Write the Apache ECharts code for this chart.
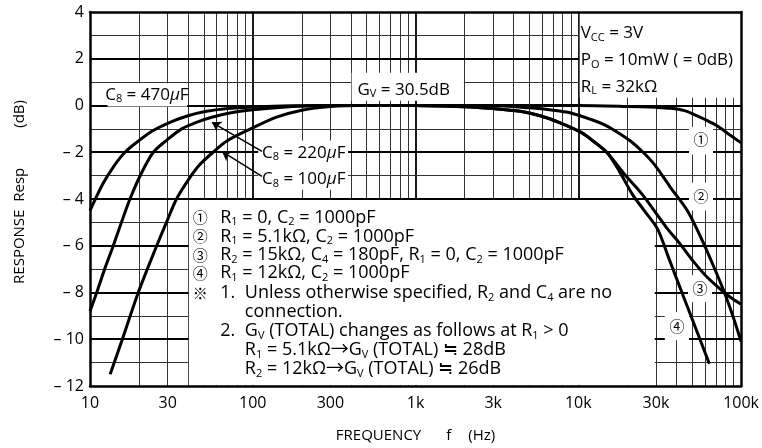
<!DOCTYPE html>
<html><head><meta charset="utf-8">
<script src="https://cdn.jsdelivr.net/npm/echarts@6/dist/echarts.min.js"></script>
<style>html,body{margin:0;padding:0;background:#fff}#c{width:762px;height:448px}</style>
</head><body><div id="c"></div>
<script>
// ---------- axis ticks ----------
const FREQ_TICKS = [10, 30, 100, 300, 1000, 3000, 10000, 30000, 100000];
const FREQ_LABELS = ['10', '30', '100', '300', '1k', '3k', '10k', '30k', '100k'];
const FREQ_MIN = 10, FREQ_MAX = 100000;
const RESP_MIN = -12, RESP_MAX = 4, RESP_STEP = 2;
const DECADES = [10, 100, 1000, 10000];
const MINOR_MULT = [2, 3, 4, 5, 6, 7, 8, 9];

// ---------- low-frequency curves (C8) ----------
const C8_470_F  = [10, 12, 14, 16.4, 20, 24, 30, 40, 51, 70, 100, 150, 250, 1000];
const C8_470_DB = [-4.5, -3.35, -2.6, -2.0, -1.5, -1.1, -0.76, -0.44, -0.26, -0.13, -0.06, -0.02, 0, 0];
const C8_220_F  = [10, 11, 12.3, 13.9, 15.6, 17.6, 20.5, 24.5, 30, 36.6, 45, 56, 75, 100, 160, 250, 400, 1000];
const C8_220_DB = [-8.8, -8.0, -7.0, -6.0, -5.0, -4.0, -2.95, -2.0, -1.45, -1.0, -0.72, -0.5, -0.3, -0.18, -0.06, -0.01, 0, 0];
const C8_100_F  = [13.3, 15.8, 19.8, 25.7, 29.5, 34, 40, 47, 57, 70, 97, 140, 200, 300, 450, 1000];
const C8_100_DB = [-11.5, -10, -8, -6, -5, -4, -3.2, -2.55, -2.0, -1.5, -1.0, -0.5, -0.2, -0.04, 0, 0];

// ---------- high-frequency curves (1)-(4) ----------
const HF1_F  = [1000, 10000, 20000, 30000, 37000, 45000, 51600, 60000, 72000, 85000, 100000];
const HF1_DB = [0, 0, -0.04, -0.08, -0.12, -0.22, -0.39, -0.6, -0.89, -1.25, -1.6];
const HF2_F  = [1000, 3000, 5000, 7000, 9000, 12000, 14400, 17000, 21000, 25000, 29300, 37000, 47000, 58000, 68000, 79000, 90000, 100000];
const HF2_DB = [0, 0, -0.1, -0.2, -0.32, -0.6, -0.82, -1.1, -1.53, -2.0, -2.52, -3.52, -4.52, -5.8, -6.9, -8.0, -9.1, -10.1];
const HF3_F  = [1000, 2000, 3000, 4400, 5900, 7800, 10400, 12500, 15100, 19000, 24700, 30000, 35400, 40900, 51500, 62000, 78700, 89000, 100000];
const HF3_DB = [0, -0.05, -0.13, -0.25, -0.45, -0.75, -1.15, -1.55, -2.03, -2.9, -3.8, -4.6, -5.29, -5.8, -6.71, -7.35, -8.0, -8.28, -8.5];
const HF4_F  = [1000, 2000, 3000, 4400, 5900, 7800, 10400, 12500, 15100, 18000, 21500, 25500, 30700, 36000, 42000, 47000, 54000, 63800];
const HF4_DB = [0, -0.05, -0.13, -0.25, -0.45, -0.75, -1.15, -1.55, -2.03, -2.85, -3.8, -4.51, -5.29, -6.54, -7.76, -8.64, -9.73, -11.05];

// ---------- annotation layout (data coordinates) ----------
// white boxes: [f1, f2, dB1, dB2]
const NOTE_BOXES = [
  [40.5, 29500, -4.04, -11.96],
  [10200, 100000, 0.33, 4],
  [405, 1980, 0.2, 1.4],
  [12.8, 39.5, -0.04, 0.95],
  [108, 385, -1.5, -3.6],
  [47900, 67300, -0.91, -2.1],
  [47900, 67300, -3.3, -4.5],
  [47200, 66300, -7.26, -8.41],
  [34000, 47900, -8.84, -10.04]
];
// arrows: [fromF, fromDB, toF, toDB]
const ARROWS = [
  [113.9, -1.96, 56.1, -0.72],
  [113.9, -3.03, 64.6, -1.96]
];
// texts: [f, dB, text, position]
const NOTE_TEXTS = [
  [12.4, 0.46, 'C{sub|8} = 470{it|µ}F', 'right'],
  [440, 0.67, 'G{sub|V} = 30.5dB', 'right'],
  [114, -2.02, 'C{sub|8} = 220{it|µ}F', 'right'],
  [114, -3.17, 'C{sub|8} = 100{it|µ}F', 'right'],
  [10350, 3.1, 'V{sub|CC} = 3V', 'right'],
  [10350, 1.95, 'P{sub|O} = 10mW ( = 0dB)', 'right'],
  [10350, 0.8, 'R{sub|L} = 32kΩ', 'right'],
  [56800, -1.46, '{cir|①}', 'inside'],
  [56800, -3.88, '{cir|②}', 'inside'],
  [56000, -7.83, '{cir|③}', 'inside'],
  [40400, -9.45, '{cir|④}', 'inside']
];
const LEGEND_ROWS_DB = [-4.79, -5.6, -6.41, -7.18, -8.03, -8.84, -9.65, -10.46, -11.27];
const LEGEND_COL_F = [47.5, 63.1, 89.4];
// [row, col, text]
const LEGEND_TEXTS = [
  [0, 0, '{cir|①}'], [0, 1, 'R{sub|1} = 0, C{sub|2} = 1000pF'],
  [1, 0, '{cir|②}'], [1, 1, 'R{sub|1} = 5.1kΩ, C{sub|2} = 1000pF'],
  [2, 0, '{cir|③}'], [2, 1, 'R{sub|2} = 15kΩ, C{sub|4} = 180pF, R{sub|1} = 0, C{sub|2} = 1000pF'],
  [3, 0, '{cir|④}'], [3, 1, 'R{sub|1} = 12kΩ, C{sub|2} = 1000pF'],
  [4, 0, '{cir|※}'], [4, 1, '1.'], [4, 2, 'Unless otherwise specified, R{sub|2} and C{sub|4} are no'],
  [5, 2, 'connection.'],
  [6, 1, '2.'], [6, 2, 'G{sub|V} (TOTAL) changes as follows at R{sub|1} > 0'],
  [7, 2, 'R{sub|1} = 5.1kΩ→G{sub|V} (TOTAL) ≒ 28dB'],
  [8, 2, 'R{sub|2} = 12kΩ→G{sub|V} (TOTAL) ≒ 26dB']
];

const FONT = "'Open Sans', 'Noto Sans CJK JP', sans-serif";
const CJK = "'Noto Sans CJK JP', 'DejaVu Sans', sans-serif";
const RICH = {
  sub: {fontSize: 11, lineHeight: 9, verticalAlign: 'bottom', fontFamily: FONT, color: '#000'},
  it: {fontSize: 17, fontStyle: 'italic', fontFamily: FONT, color: '#000'},
  cir: {fontSize: 15, fontFamily: CJK, color: '#000'}
};
const zip = (fs, ds) => fs.map((f, i) => [f, ds[i]]);

// grid lines
const gridLines = [];
DECADES.forEach(d => {
  if (d > FREQ_MIN) gridLines.push({xAxis: d, lineStyle: {width: 1.8, color: '#000', type: 'solid'}});
  MINOR_MULT.forEach(m => gridLines.push({xAxis: d * m, lineStyle: {width: 1, color: '#333', type: 'solid'}}));
});
for (let v = RESP_MIN + 1; v < RESP_MAX; v++) {
  const major = v % 2 === 0;
  gridLines.push({yAxis: v, lineStyle: {width: major ? 1.8 : 1, color: major ? '#000' : '#333', type: 'solid'}});
}

const markPoints = NOTE_TEXTS.map(([f, db, t, pos]) => ({coord: [f, db], label: {formatter: t, position: pos}}))
  .concat(LEGEND_TEXTS.map(([r, c, t]) => ({
    coord: [LEGEND_COL_F[c], LEGEND_ROWS_DB[r]],
    label: c === 0 ? {formatter: t, position: 'inside'} : {formatter: t, position: 'right', fontSize: 18}
  })));

function curve(name, fs, ds) {
  return {
    name, type: 'line', data: zip(fs, ds), z: 3, symbol: 'none', smooth: 0.3,
    lineStyle: {color: '#000', width: 3}, silent: true, animation: false
  };
}

const labelFmt = v => {
  const i = FREQ_TICKS.findIndex(t => Math.abs(Math.log10(t) - Math.log10(v)) < 1e-6);
  return i >= 0 ? FREQ_LABELS[i] : '';
};

const option = {
  animation: false,
  backgroundColor: '#fff',
  grid: {left: 90, right: 20, top: 12, bottom: 61, containLabel: false},
  xAxis: [{
    type: 'log', logBase: 10, min: FREQ_MIN, max: FREQ_MAX, z: 10,
    axisLine: {onZero: false, lineStyle: {color: '#000', width: 2.5}},
    axisTick: {show: false}, splitLine: {show: false}, minorSplitLine: {show: false},
    axisLabel: {customValues: FREQ_TICKS, formatter: labelFmt, fontSize: 16, color: '#000', fontFamily: FONT, margin: 9},
    name: '{n|FREQUENCY}{g1| }{n|f}{g2| }{n|(Hz)}', nameLocation: 'middle', nameGap: 42,
    nameTextStyle: {fontSize: 15, color: '#000', fontFamily: FONT,
      rich: {n: {fontSize: 15, fontFamily: FONT, color: '#000'}, g1: {width: 25}, g2: {width: 17}}}
  }, {
    type: 'log', logBase: 10, min: FREQ_MIN, max: FREQ_MAX, position: 'top', z: 10,
    axisLine: {onZero: false, lineStyle: {color: '#000', width: 2.5}},
    axisTick: {show: false}, axisLabel: {show: false}, splitLine: {show: false}
  }],
  yAxis: [{
    type: 'value', min: RESP_MIN, max: RESP_MAX, interval: RESP_STEP, z: 10,
    axisLine: {show: true, onZero: false, lineStyle: {color: '#000', width: 2.5}},
    axisTick: {show: false}, splitLine: {show: false},
    axisLabel: {formatter: v => v < 0 ? '– ' + (-v) : String(v), fontSize: 16, color: '#000', fontFamily: FONT, margin: 6},
    name: '{n|RESPONSE  Resp}{g| }{n|(dB)}', nameLocation: 'middle', nameGap: 63,
    nameTextStyle: {fontSize: 15, color: '#000', fontFamily: FONT, padding: [0, 0, 0, 14],
      rich: {n: {fontSize: 15, fontFamily: FONT, color: '#000'}, g: {width: 40}}}
  }, {
    type: 'value', min: RESP_MIN, max: RESP_MAX, interval: RESP_STEP, position: 'right', z: 10,
    axisLine: {show: true, onZero: false, lineStyle: {color: '#000', width: 2.5}},
    axisTick: {show: false}, axisLabel: {show: false}, splitLine: {show: false}
  }],
  series: [
    {
      name: 'grid', type: 'line', data: [], z: 1, silent: true,
      markLine: {z: 1, silent: true, symbol: ['none', 'none'], label: {show: false}, animation: false,
        emphasis: {disabled: true}, data: gridLines}
    },
    {
      name: 'boxes', type: 'line', data: [], z: 2, silent: true,
      markArea: {z: 2, silent: true, animation: false, emphasis: {disabled: true},
        itemStyle: {color: '#fff', opacity: 1, borderWidth: 0},
        data: NOTE_BOXES.map(([f1, f2, d1, d2]) => [{coord: [f1, d1]}, {coord: [f2, d2]}])}
    },
    curve('C8=470uF', C8_470_F, C8_470_DB),
    curve('C8=220uF', C8_220_F, C8_220_DB),
    curve('C8=100uF', C8_100_F, C8_100_DB),
    curve('1', HF1_F, HF1_DB),
    curve('2', HF2_F, HF2_DB),
    curve('3', HF3_F, HF3_DB),
    curve('4', HF4_F, HF4_DB),
    {
      name: 'notes', type: 'line', data: [], z: 4, silent: true,
      markLine: {z: 4, silent: true, symbol: ['none', 'arrow'], symbolSize: 9, label: {show: false}, animation: false,
        emphasis: {disabled: true}, lineStyle: {color: '#000', width: 1.5, type: 'solid'},
        data: ARROWS.map(([f1, d1, f2, d2]) => [{coord: [f1, d1]}, {coord: [f2, d2]}])},
      markPoint: {z: 5, silent: true, animation: false, symbol: 'rect', symbolSize: 0,
        itemStyle: {color: 'rgba(0,0,0,0)'}, emphasis: {disabled: true},
        label: {show: true, distance: 0, color: '#000', fontSize: 17, lineHeight: 20, fontFamily: FONT, rich: RICH},
        data: markPoints}
    }
  ]
};
const chart = echarts.init(document.getElementById('c'));
chart.setOption(option);
</script></body></html>
